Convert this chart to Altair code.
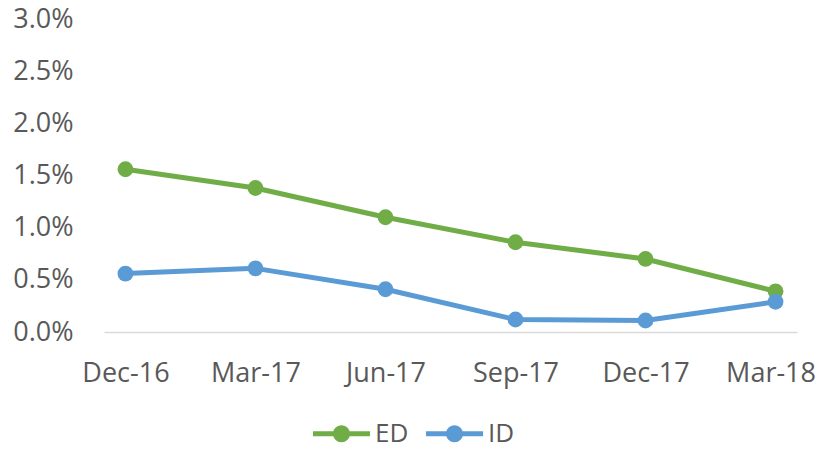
import altair as alt
import pandas as pd

dates = ["Dec-16", "Mar-17", "Jun-17", "Sep-17", "Dec-17", "Mar-18"]
ed_values = [0.0156, 0.0138, 0.0110, 0.0086, 0.0070, 0.0039]
id_values = [0.0056, 0.0061, 0.0041, 0.0012, 0.0011, 0.0029]
series_names = ["ED", "ID"]
series_colors = ["#70AD47", "#5B9BD5"]
y_ticks = [0.0, 0.005, 0.01, 0.015, 0.02, 0.025, 0.03]

rows = []
for d, e, i in zip(dates, ed_values, id_values):
    rows.append({"date": d, "series": "ED", "value": e})
    rows.append({"date": d, "series": "ID", "value": i})
df = pd.DataFrame(rows)

FONT = "Open Sans"
TXT = "#595959"
FS = 27

legend_path = ("M-1,-0.088H1V0.088H-1Z "
               "M-0.3,0A0.3,0.3 0 1 1 0.3,0A0.3,0.3 0 1 1 -0.3,0Z")

chart = alt.Chart(df).mark_line(
    strokeWidth=5, strokeJoin="round", strokeCap="round",
    point=alt.OverlayMarkDef(filled=True, size=250, opacity=1),
).encode(
    x=alt.X("date:N", sort=dates,
            scale=alt.Scale(type="point", padding=0.165),
            axis=alt.Axis(title=None, labelAngle=0, ticks=False,
                          domainColor="#D9D9D9", domainWidth=1.5,
                          labelPadding=28, labelFontSize=FS,
                          labelOffset={"condition": {"test": "datum.value == 'Mar-18'",
                                                     "value": -5},
                                       "value": 0},
                          labelFont=FONT, labelColor=TXT, grid=False)),
    y=alt.Y("value:Q", scale=alt.Scale(domain=[0, 0.03]),
            axis=alt.Axis(title=None, format=".1%", values=y_ticks,
                          domain=False, ticks=False, grid=False,
                          labelPadding=31, labelFontSize=FS,
                          labelFont=FONT, labelColor=TXT)),
    color=alt.Color("series:N",
                    scale=alt.Scale(domain=series_names, range=series_colors),
                    legend=alt.Legend(title=None, orient="none",
                                      direction="horizontal",
                                      legendX=209, legendY=386,
                                      symbolType=legend_path,
                                      symbolSize=3249, symbolStrokeWidth=0,
                                      symbolOpacity=1,
                                      labelFontSize=26, labelFont=FONT,
                                      labelColor=TXT, labelOffset=5,
                                      columnPadding=17, padding=0)),
).properties(
    width=693, height=313,
    padding={"left": 96, "top": 11, "right": 20, "bottom": 117},
    autosize="none",
).configure_view(stroke=None)

chart.save("out.html", embed_options={"renderer": "svg", "actions": False})
